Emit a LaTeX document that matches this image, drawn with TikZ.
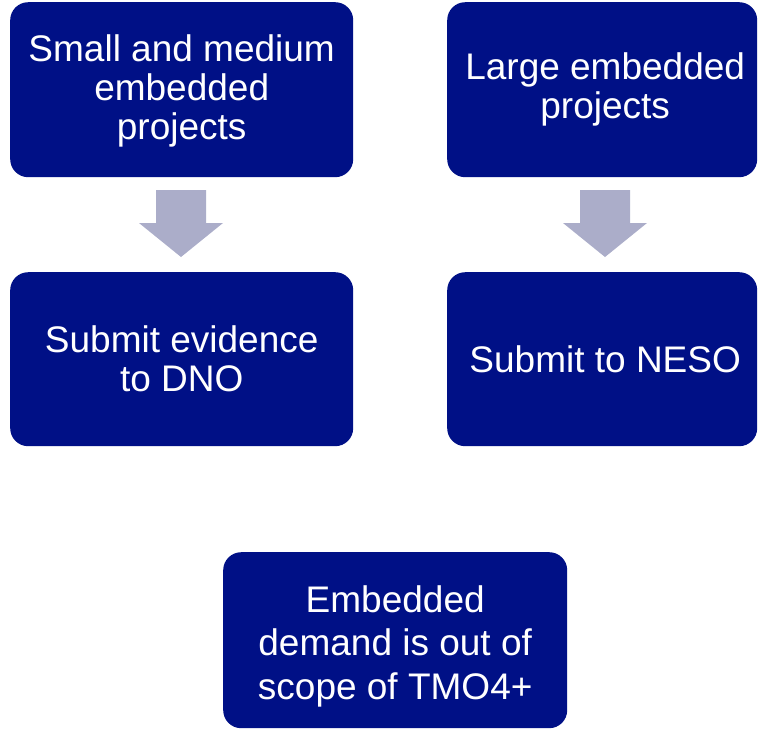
\documentclass[tikz,border=0pt]{standalone}
\usepackage{fontspec}
\setmainfont{Liberation Sans}
\usetikzlibrary{calc}
\definecolor{boxblue}{RGB}{0,16,134}
\definecolor{arrowgray}{RGB}{171,173,201}
\begin{document}
\begin{tikzpicture}[x=1pt,y=-1pt,
  box/.style={rectangle, rounded corners=18pt, fill=boxblue, text=white,
    inner sep=0pt, anchor=north west, align=center,
    font=\fontsize{37}{39}\selectfont},
  boxtext/.style={text=white, inner sep=0pt, align=center},
  blockarrow/.style={fill=arrowgray, draw=none}]
\useasboundingbox (0,0) rectangle (758,732);
\node[box, minimum width=343pt, minimum height=175pt] (b1) at (10,2) {};
\node[boxtext, font=\fontsize{37}{39}\selectfont] (t1) at ($(b1.center)+(0,1)$)
  {Small and medium\\embedded\\projects};
\node[box, minimum width=310pt, minimum height=175pt] (b2) at (447,2) {};
\node[boxtext, font=\fontsize{37}{39}\selectfont] (t2) at ($(b2.center)+(3,0)$)
  {Large embedded\\projects};
\node[box, minimum width=343pt, minimum height=174pt] (b3) at (10,272) {};
\node[boxtext, font=\fontsize{37}{39}\selectfont] (t3) at ($(b3.center)+(0,0)$)
  {Submit evidence\\to DNO};
\node[box, minimum width=310pt, minimum height=174pt] (b4) at (447,272) {};
\node[boxtext, font=\fontsize{37}{39}\selectfont] (t4) at ($(b4.center)+(3,0)$)
  {Submit to NESO};
\node[box, minimum width=344pt, minimum height=176pt] (b5) at (223,552) {};
\node[boxtext, font=\fontsize{37}{43.5}\selectfont] (t5) at ($(b5.center)+(0,6)$)
  {Embedded\\demand is out of\\scope of TMO4+};
% block arrows
\coordinate (a1) at (181,190);
\coordinate (a2) at (605,190);
\foreach \c in {a1,a2}{
  \fill[blockarrow] ($(\c)+(-25,0)$) -- ($(\c)+(25,0)$) -- ($(\c)+(25,33)$)
    -- ($(\c)+(42,33)$) -- ($(\c)+(0,67)$) -- ($(\c)+(-42,33)$)
    -- ($(\c)+(-25,33)$) -- cycle;
}
\end{tikzpicture}
\end{document}
